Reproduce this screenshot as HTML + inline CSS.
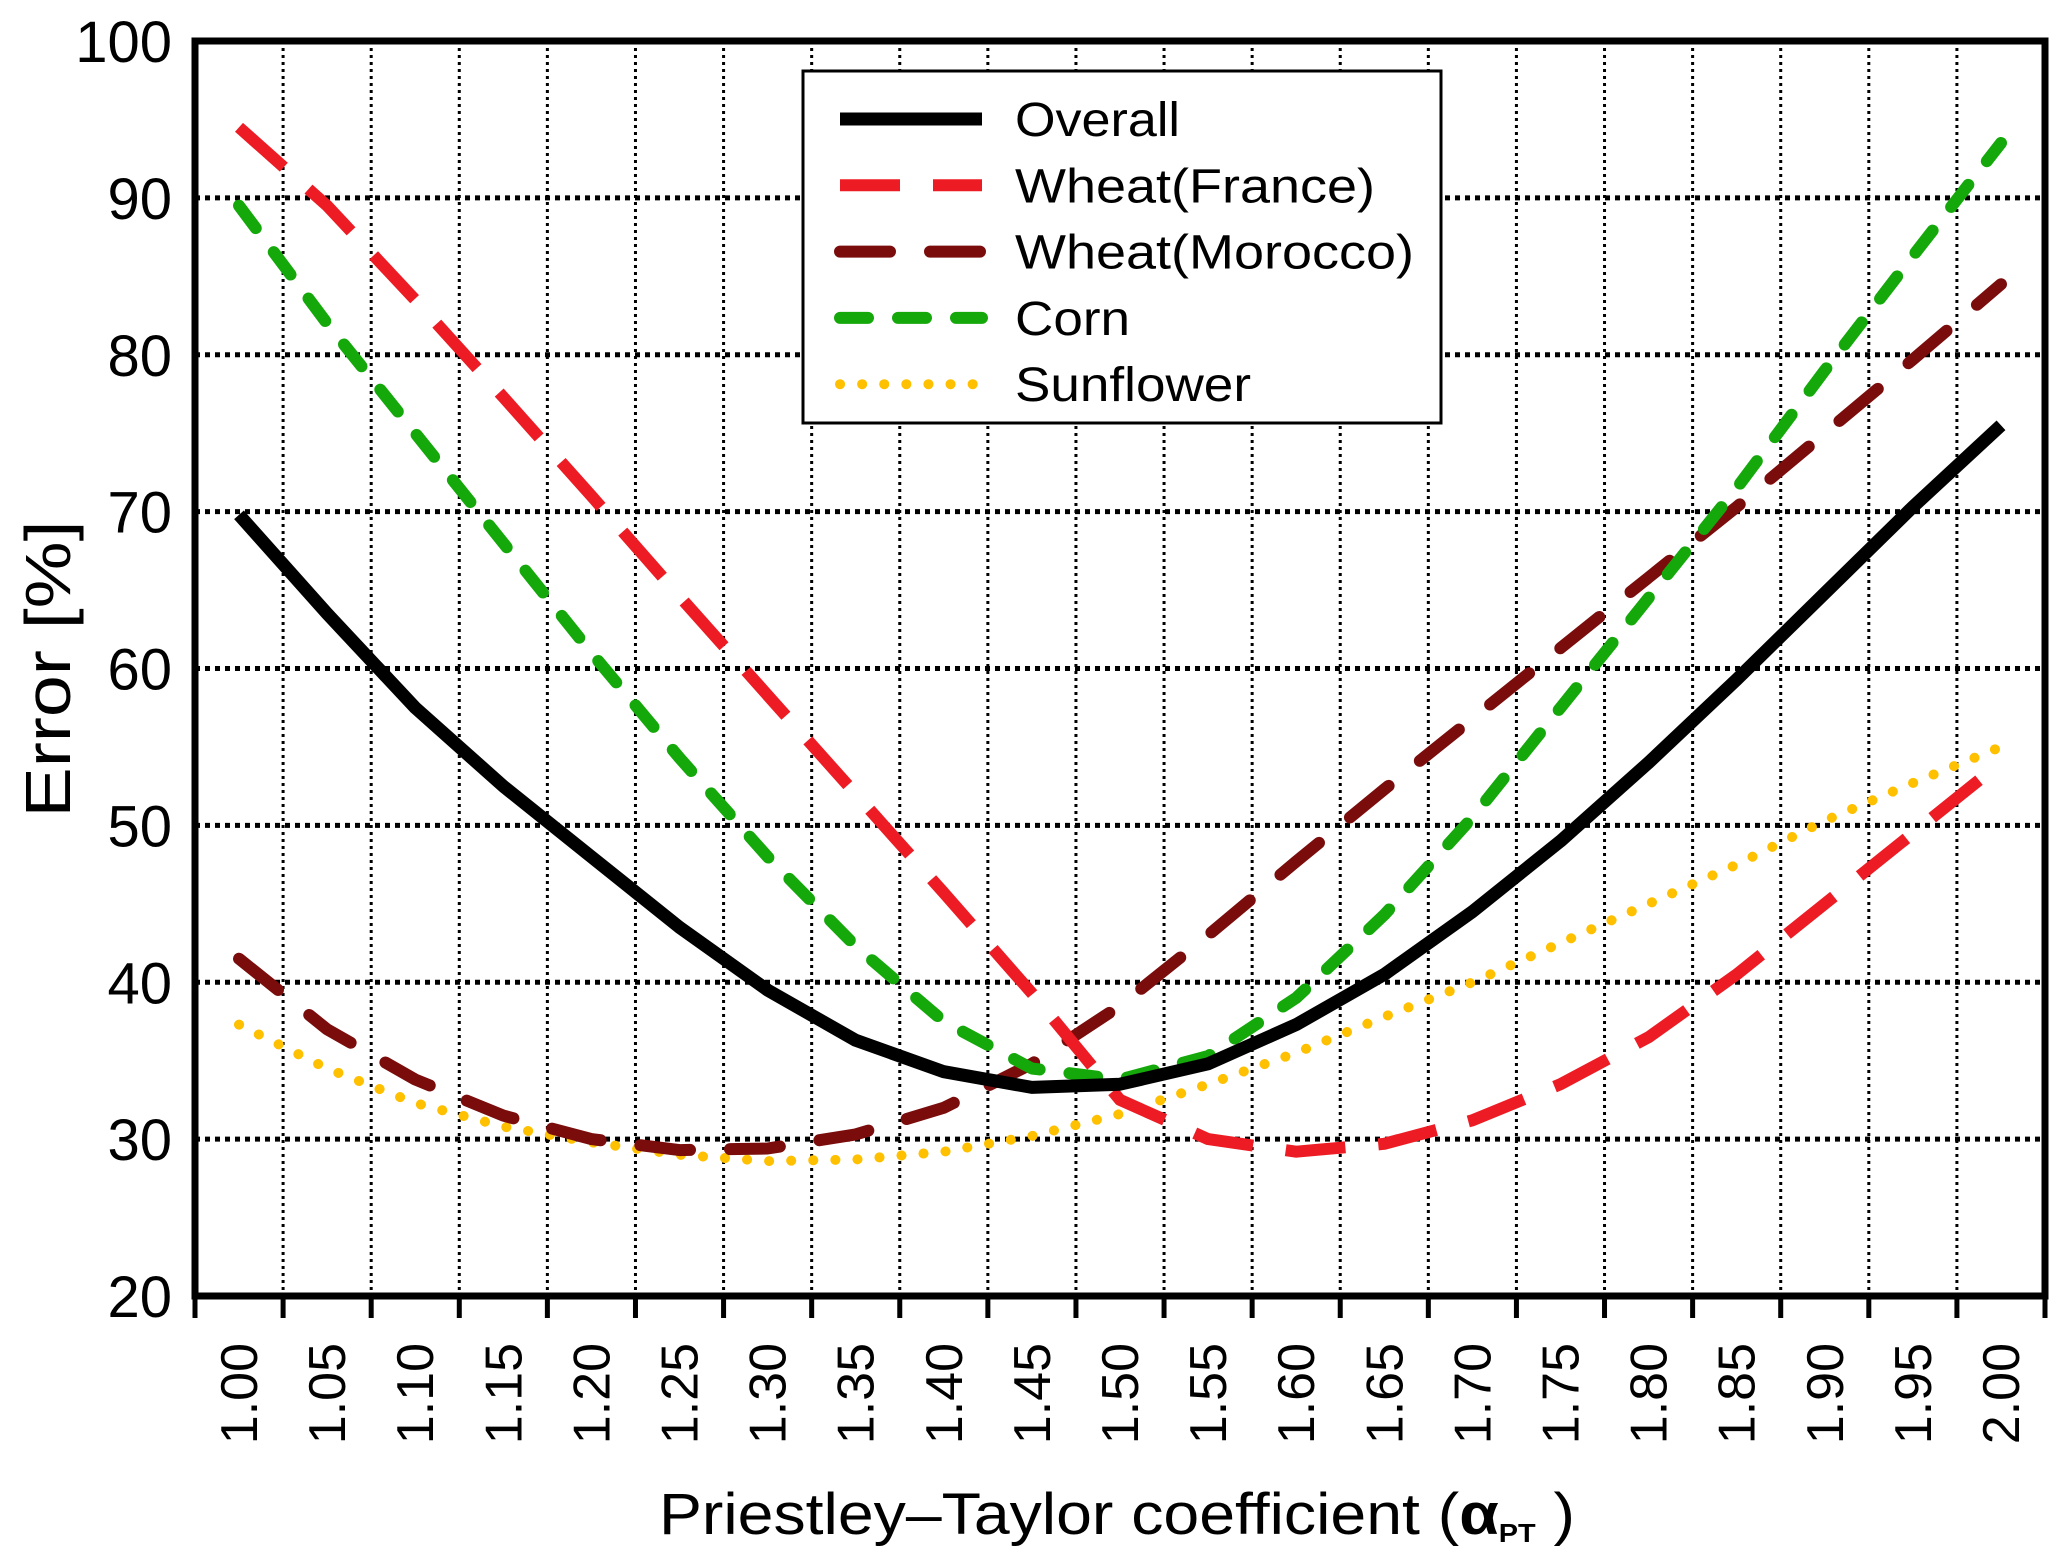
<!DOCTYPE html>
<html><head><meta charset="utf-8"><style>
html,body{margin:0;padding:0;background:#fff;}
svg{display:block;font-family:"Liberation Sans",Arial,sans-serif;}
</style></head><body>
<svg id="chart" width="2067" height="1561" viewBox="0 0 2067 1561" xmlns="http://www.w3.org/2000/svg">
<g id="grid"></g>
<g id="series"></g>
<g id="axes"></g>
<text x="0" y="0" transform="translate(70,669) rotate(-90)" text-anchor="middle" font-size="64" textLength="297" lengthAdjust="spacingAndGlyphs">Error [%]</text>
<text x="1117" y="1534" text-anchor="middle" font-size="58" textLength="916" lengthAdjust="spacingAndGlyphs">Priestley–Taylor coefficient (<tspan font-weight="bold">α</tspan><tspan font-size="26" font-weight="bold" dy="8">PT</tspan><tspan dy="-8"> )</tspan></text>
<g id="legend"></g>
</svg>
<script>
const categories = ["1.00","1.05","1.10","1.15","1.20","1.25","1.30","1.35","1.40","1.45","1.50","1.55","1.60","1.65","1.70","1.75","1.80","1.85","1.90","1.95","2.00"];
const yTicks = [20,30,40,50,60,70,80,90,100];
const overall = [69.8,63.5,57.5,52.5,48,43.5,39.5,36.3,34.3,33.3,33.5,34.8,37.3,40.5,44.5,49,54,59.3,64.8,70.3,75.5];
const wheatFrance = [94.5,89.5,83.5,77.3,71,64.6,58.3,52,45.7,39.3,32.5,30,29.2,29.7,31.2,33.5,36.5,40.5,45,49.5,54];
const wheatMorocco = [41.5,37,33.8,31.5,30,29.3,29.4,30.3,32,34.8,38.5,43,47.7,52.3,56.8,61.3,65.8,70.3,75,79.7,84.5];
const corn = [89.5,82,75,68,61,54.3,48,42.3,37.5,34.5,33.8,35.3,39,44.3,50.5,57.5,64.5,71.5,79,86.3,93.5];
const sunflower = [37.3,34.5,32.3,30.8,29.8,29,28.6,28.7,29.2,30.2,31.6,33.5,35.5,37.8,40,42.5,45,47.5,50.3,52.7,55];

const NS="http://www.w3.org/2000/svg";
const L=195,R=2045,T=41,B=1296,yMin=20,yMax=100;
const cw=(R-L)/categories.length;
const xc=i=>L+cw*(i+0.5);
const xb=i=>L+cw*i;
const y=v=>B-(v-yMin)/(yMax-yMin)*(B-T);
function mk(tag,attrs,parent){const e=document.createElementNS(NS,tag);for(const k in attrs)e.setAttribute(k,attrs[k]);parent.appendChild(e);return e;}
const grid=document.getElementById('grid'),axes=document.getElementById('axes'),ser=document.getElementById('series'),leg=document.getElementById('legend');

for(let i=1;i<categories.length;i++){
 const g=mk('line',{x1:xb(i),x2:xb(i),y1:T,y2:B,stroke:'#000','stroke-width':3,'stroke-dasharray':'3 4'},grid);
 
 
}
yTicks.forEach(v=>{
 if(v>yMin&&v<yMax){
  const g=mk('line',{x1:L,x2:R,y1:y(v),y2:y(v),stroke:'#000','stroke-width':5,'stroke-dasharray':'5 5'},grid);
  
  
 }
 const t=mk('text',{x:172,y:y(v)+21,'text-anchor':'end','font-size':58},axes);
 t.textContent=v;
 
 
});
const fr=mk('rect',{x:L,y:T,width:R-L,height:B-T,fill:'none',stroke:'#000','stroke-width':7},axes);


for(let i=0;i<=categories.length;i++){
 const tk=mk('line',{x1:xb(i),x2:xb(i),y1:B,y2:B+22,stroke:'#000','stroke-width':5},axes);
 
 
}
categories.forEach((c,i)=>{
 const t=mk('text',{x:0,y:0,transform:`translate(${xc(i)+18},1343) rotate(-90)`,'text-anchor':'end','font-size':52},axes);
 t.textContent=c;
 
 
});

const styles=[
 {name:'Overall',data:overall,color:'#000',w:13,dash:'',cap:'butt',key:'overall',len:165},
 {name:'Wheat(France)',data:wheatFrance,color:'#ed1c24',w:12,dash:'60 33',cap:'butt',key:'wheat-france',len:360},
 {name:'Wheat(Morocco)',data:wheatMorocco,color:'#7a0c0c',w:12,dash:'50 40',cap:'round',key:'wheat-morocco',len:399},
 {name:'Corn',data:corn,color:'#14a80a',w:12,dash:'28 30',cap:'round',key:'corn',len:115},
 {name:'Sunflower',data:sunflower,color:'#ffc000',w:10,dash:'0.1 22',cap:'round',key:'sunflower',len:236}
];
[4,2,1,3,0].forEach(si=>{
 const s=styles[si];
 const d=s.data.map((v,i)=>(i?'L':'M')+xc(i).toFixed(1)+' '+y(v).toFixed(1)).join(' ');
 const p=mk('path',{d:d,fill:'none',stroke:s.color,'stroke-width':s.w,'stroke-linecap':s.cap,'stroke-linejoin':'round'},ser);
 if(s.dash)p.setAttribute('stroke-dasharray',s.dash);
 
 
});
const lb=mk('rect',{x:803,y:71,width:638,height:352,fill:'#fff',stroke:'#000','stroke-width':3},leg);


styles.forEach((s,i)=>{
 const ly=119+i*66.3;
 const ln=mk('line',{x1:840,x2:982,y1:ly,y2:ly,stroke:s.color,'stroke-width':s.w,'stroke-linecap':s.cap},leg);
 if(s.dash)ln.setAttribute('stroke-dasharray',s.dash);
 
 
 const t=mk('text',{x:1015,y:ly+17,'font-size':48,textLength:s.len,lengthAdjust:'spacingAndGlyphs'},leg);
 t.textContent=s.name;
 
 
});
</script>
</body></html>
